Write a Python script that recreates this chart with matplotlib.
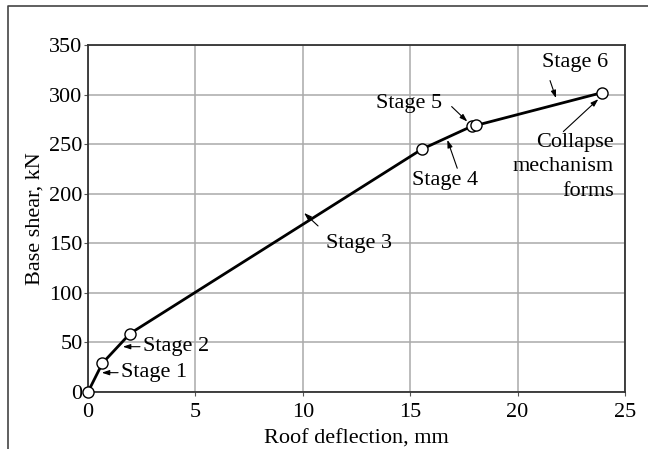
import matplotlib
matplotlib.use("Agg")
import matplotlib.pyplot as plt
from matplotlib.lines import Line2D

# pushover curve: roof deflection (mm) vs base shear (kN)
deflection = [0.0, 0.67, 1.96, 15.55, 17.86, 18.08, 23.94]
base_shear = [0.0, 29, 59, 245, 268, 269, 302]

x_ticks = [0, 5, 10, 15, 20, 25]
y_ticks = [0, 50, 100, 150, 200, 250, 300, 350]

plt.rcParams["font.family"] = ["Liberation Serif", "DejaVu Serif"]
FS = 16

fig = plt.figure(figsize=(6.48, 4.49), dpi=100)
ax = fig.add_axes([88 / 648, 57 / 449, 537 / 648, 347 / 449])

# outer frame (left and top edges only visible)
fig.add_artist(Line2D([8 / 648, 8 / 648, 1.0], [0.0, 1 - 6 / 449, 1 - 6 / 449],
                      transform=fig.transFigure, color="#444444", lw=1.2))

ax.plot(deflection, base_shear, color="black", lw=2.0, zorder=3,
        marker="o", markersize=8, markerfacecolor="white",
        markeredgecolor="black", markeredgewidth=1.0, clip_on=False)

ax.set_xlim(0, 25)
ax.set_ylim(0, 350)
ax.set_xticks(x_ticks)
ax.set_yticks(y_ticks)
ax.tick_params(labelsize=FS, length=3, width=0.8, color="#555555")
ax.tick_params(axis="x", pad=5)
ax.tick_params(axis="y", pad=1)
ax.grid(True, color="#aaaaaa", lw=1.1)
for s in ax.spines.values():
    s.set_color("#333333")
    s.set_linewidth(1.3)
ax.set_xlabel("Roof deflection, mm", fontsize=FS, labelpad=5)
ax.set_ylabel("Base shear, kN", fontsize=FS, labelpad=3)

arrow = dict(arrowstyle="-|>,head_length=0.45,head_width=0.15", color="black",
             lw=0.8, shrinkA=0, shrinkB=0)


def stage(label, tip, tail, text_xy, ha="center"):
    ax.annotate("", xy=tip, xytext=tail, arrowprops=arrow, zorder=4)
    ax.text(text_xy[0], text_xy[1], label, fontsize=FS, ha=ha, va="center", zorder=4)


stage("Stage 1", (0.64, 19.5), (1.40, 19.5), (1.55, 20), ha="left")
stage("Stage 2", (1.62, 45.7), (2.42, 45.7), (2.58, 46), ha="left")
stage("Stage 3", (10.06, 180.6), (10.71, 167.5), (12.62, 150))
stage("Stage 4", (16.73, 254.3), (17.19, 225.7), (16.62, 213))
stage("Stage 5", (17.66, 272.8), (16.93, 287.9), (14.96, 291))
stage("Stage 6", (21.79, 296.4), (21.51, 314.1), (22.67, 332))
ax.annotate("", xy=(23.76, 295.4), xytext=(22.13, 262.7), arrowprops=arrow, zorder=4)
ax.text(24.49, 227, "Collapse\nmechanism\nforms", fontsize=FS, ha="right",
        va="center", linespacing=1.4, zorder=4)

fig.savefig("out.png", dpi=100)
